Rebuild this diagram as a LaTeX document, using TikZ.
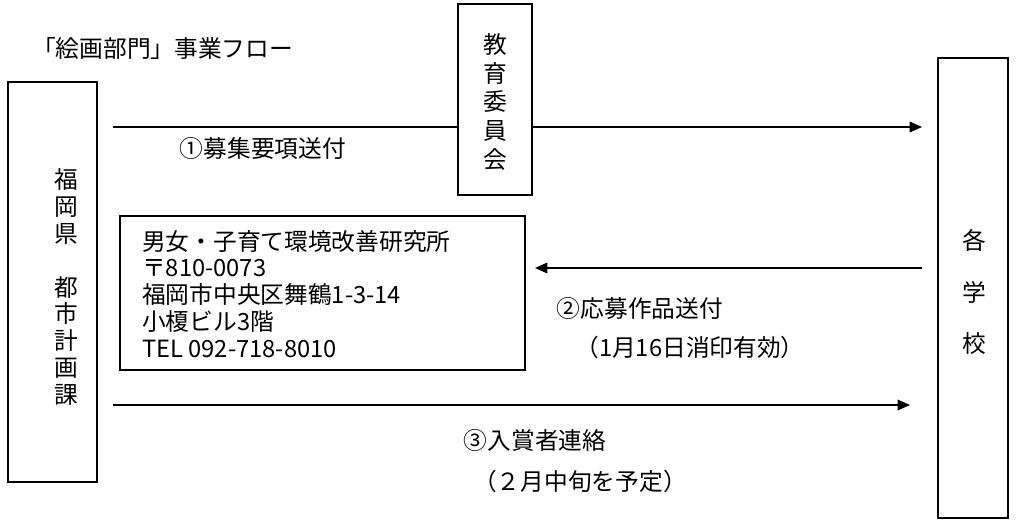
\documentclass[tikz,border=0pt]{standalone}
\usepackage{fontspec}
\setmainfont{Noto Sans CJK JP}
\usetikzlibrary{arrows.meta}
\begin{document}
\begin{tikzpicture}[x=0.02cm,y=-0.02cm,font=\fontsize{13.5}{16}\selectfont]

\tikzstyle{box}=[draw,line width=0.8pt];
\tikzstyle{flow}=[-{Triangle[length=7pt,width=6pt]},line width=0.8pt];
\tikzstyle{vert}=[align=center,inner sep=0pt];

\useasboundingbox (0,0) rectangle (1016,523);

\node (title) [anchor=west] at (26,48) {「絵画部門」事業フロー};

\draw[box] (8,82) rectangle (97,482);
\node (pref) [vert,font=\fontsize{13.5}{15.3}\selectfont] at (66,287) {福\\岡\\県\\\mbox{}\\都\\市\\計\\画\\課};

\draw[box] (458,4) rectangle (532,195);
\node (board) [vert,font=\fontsize{13.5}{16.3}\selectfont] at (495,102) {教\\育\\委\\員\\会};

\draw[box] (938,58) rectangle (1008,518);
\node (school) [vert,font=\fontsize{13.5}{29.5}\selectfont] at (974,292) {各\\学\\校};

\coordinate (a1s) at (113,127);
\coordinate (a1m) at (458,127);
\coordinate (a1n) at (532,127);
\coordinate (a1e) at (922,127);
\draw[line width=0.8pt] (a1s) -- (a1m);
\draw[flow] (a1n) -- (a1e);
\node (lab1) at (263,148) {①募集要項送付};

\draw[box] (120,216) rectangle (525,370);
\node (addr) [anchor=north west,align=left,font=\fontsize{13.5}{15.2}\selectfont] at (136,224)
  {男女・子育て環境改善研究所\\〒810-0073\\福岡市中央区舞鶴1-3-14\\小榎ビル3階\\TEL 092-718-8010};

\coordinate (a2s) at (922,268);
\coordinate (a2e) at (535,268);
\draw[flow] (a2s) -- (a2e);
\node (lab2) at (640,308) {②応募作品送付};
\node (lab2b) at (690,347) {（1月16日消印有効）};

\coordinate (a3s) at (113,405);
\coordinate (a3e) at (910,405);
\draw[flow] (a3s) -- (a3e);
\node (lab3) at (535,440) {③入賞者連絡};
\node (lab3b) at (580,481) {（２月中旬を予定）};
\end{tikzpicture}
\end{document}
